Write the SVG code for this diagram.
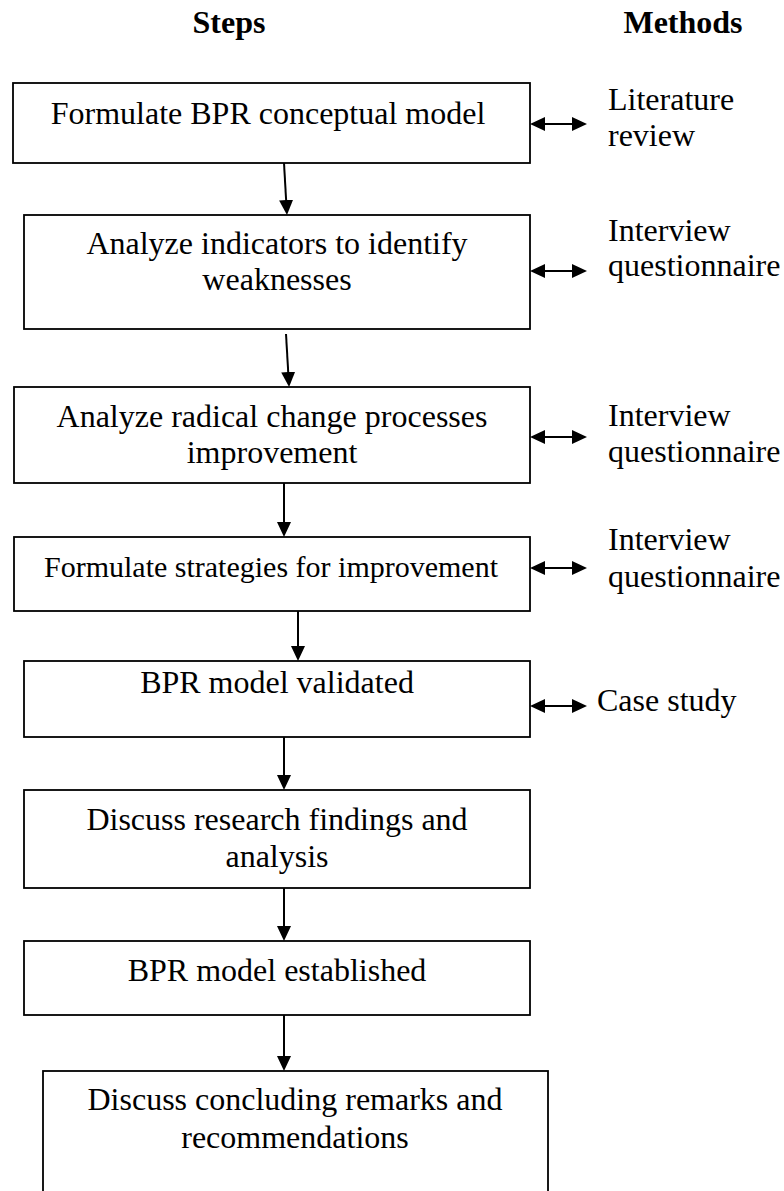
<svg xmlns="http://www.w3.org/2000/svg" width="784" height="1191" viewBox="0 0 784 1191">
  <style>
    .box { fill: #ffffff; stroke: #000000; stroke-width: 1.8; }
    .txt { font-family: "Liberation Serif", "Times New Roman", serif; font-size: 32px; fill: #000000; }
    .mid { text-anchor: middle; }
    .head { font-weight: bold; }
    .small { font-size: 30px; }
    .link { fill: none; stroke: #000000; stroke-width: 2; }
    .flow { marker-end: url(#arrow); }
    .both { marker-start: url(#arrow); marker-end: url(#arrow); }
  </style>
  <defs>
    <marker id="arrow" markerUnits="userSpaceOnUse" markerWidth="15" markerHeight="14" viewBox="0 0 15 14" refX="5" refY="7" orient="auto-start-reverse">
      <path d="M0,0 L15,7 L0,14 z" fill="#000000"/>
    </marker>
  </defs>

  <rect width="784" height="1191" fill="#ffffff"/>

  <!-- column headers -->
  <text class="txt head mid" x="229" y="33">Steps</text>
  <text class="txt head mid" x="683" y="33">Methods</text>

  <!-- step nodes -->
  <g id="step1">
    <rect class="box" x="13" y="83" width="517" height="80"/>
    <text class="txt mid" x="268" y="124">Formulate BPR conceptual model</text>
  </g>
  <g id="step2">
    <rect class="box" x="24" y="215" width="506" height="114"/>
    <text class="txt mid" x="277" y="254">Analyze indicators to identify</text>
    <text class="txt mid" x="277" y="290">weaknesses</text>
  </g>
  <g id="step3">
    <rect class="box" x="14" y="387" width="516" height="96"/>
    <text class="txt mid" x="272" y="427">Analyze radical change processes</text>
    <text class="txt mid" x="272" y="463">improvement</text>
  </g>
  <g id="step4">
    <rect class="box" x="14" y="537" width="516" height="74"/>
    <text class="txt mid small" x="271" y="577">Formulate strategies for improvement</text>
  </g>
  <g id="step5">
    <rect class="box" x="24" y="661" width="506" height="76"/>
    <text class="txt mid" x="277" y="693">BPR model validated</text>
  </g>
  <g id="step6">
    <rect class="box" x="24" y="790" width="506" height="98"/>
    <text class="txt mid" x="277" y="830">Discuss research findings and</text>
    <text class="txt mid" x="277" y="867">analysis</text>
  </g>
  <g id="step7">
    <rect class="box" x="24" y="941" width="506" height="74"/>
    <text class="txt mid" x="277" y="981">BPR model established</text>
  </g>
  <g id="step8">
    <rect class="box" x="43" y="1071" width="505" height="130"/>
    <text class="txt mid" x="295" y="1110">Discuss concluding remarks and</text>
    <text class="txt mid" x="295" y="1148">recommendations</text>
  </g>

  <!-- method labels -->
  <g id="method1">
    <text class="txt" x="608" y="110">Literature</text>
    <text class="txt" x="608" y="146">review</text>
  </g>
  <g id="method2">
    <text class="txt" x="608" y="241">Interview</text>
    <text class="txt" x="608" y="276">questionnaire</text>
  </g>
  <g id="method3">
    <text class="txt" x="608" y="426">Interview</text>
    <text class="txt" x="608" y="462">questionnaire</text>
  </g>
  <g id="method4">
    <text class="txt" x="608" y="550">Interview</text>
    <text class="txt" x="608" y="587">questionnaire</text>
  </g>
  <g id="method5">
    <text class="txt" x="597" y="711">Case study</text>
  </g>

  <!-- connectors -->
  <g id="connectors">
    <path class="link flow" d="M284,163 L286.4,205"/>
    <path class="link flow" d="M286,334 L288.5,377"/>
    <path class="link flow" d="M284,483 L284,527"/>
    <path class="link flow" d="M298,611 L298,651"/>
    <path class="link flow" d="M284,737 L284,780"/>
    <path class="link flow" d="M284,888 L284,931"/>
    <path class="link flow" d="M284,1015 L284,1061"/>

    <path class="link both" d="M540,124 L577,124"/>
    <path class="link both" d="M540,271 L577,271"/>
    <path class="link both" d="M540,437 L577,437"/>
    <path class="link both" d="M540,568 L577,568"/>
    <path class="link both" d="M540,706 L577,706"/>
  </g>
</svg>
